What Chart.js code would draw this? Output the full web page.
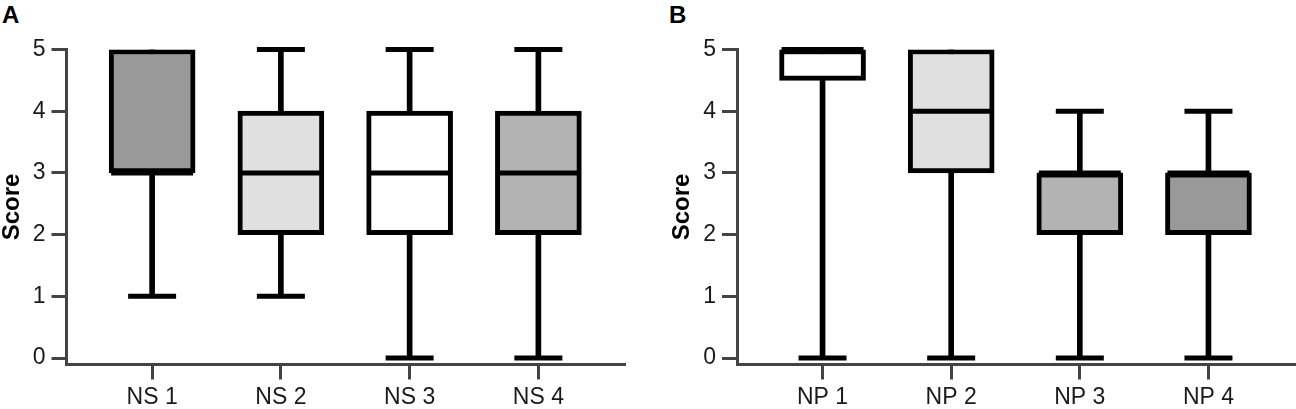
<!DOCTYPE html>
<html>
<head>
<meta charset="utf-8">
<script src="https://cdn.jsdelivr.net/npm/chart.js@4.4.0/dist/chart.umd.min.js"></script>
<style>
    html, body { margin: 0; padding: 0; background: #fff; }
    body { width: 1296px; height: 409px; position: relative; overflow: hidden; font-family: "Liberation Sans", Arial, sans-serif; }
    .panel { position: absolute; top: 0; }
    .letter { position: absolute; top: 3px; font-size: 24px; line-height: 24px; font-weight: bold; color: #000; }
</style>
</head>
<body>
<div class="letter" style="left:2px;">A</div>
<div class="letter" style="left:669px;">B</div>
<canvas id="chartA" class="panel" style="left:0px;" width="648" height="409"></canvas>
<canvas id="chartB" class="panel" style="left:670px;" width="626" height="409"></canvas>
<script>
// Panel A - NS items (box plot: min, Q1, median, Q3, max)
const catsA = ['NS 1', 'NS 2', 'NS 3', 'NS 4'];
const minA = [1, 1, 0, 0];
const q1A  = [3, 2, 2, 2];
const medA = [3, 3, 3, 3];
const q3A  = [5, 4, 4, 4];
const maxA = [5, 5, 5, 5];

// Panel B - NP items
const catsB = ['NP 1', 'NP 2', 'NP 3', 'NP 4'];
const minB = [0, 0, 0, 0];
const q1B  = [4.5, 3, 2, 2];
const medB = [5, 4, 3, 3];
const q3B  = [5, 5, 3, 3];
const maxB = [5, 5, 4, 4];

const yTicks = [0, 1, 2, 3, 4, 5];

// box fills
const fillsA = ['#999999', '#e0e0e0', '#ffffff', '#b3b3b3'];
const fillsB = ['#ffffff', '#e0e0e0', '#b3b3b3', '#999999'];

const AXIS = '#444444';
const FONT = '"Liberation Sans", Arial, sans-serif';

function makeBoxChart(id, cats, mins, q1s, meds, q3s, maxs, fills, yWidth, rightPad) {
    const pos = cats.map((c, i) => i + 1);

    // caps only where the whisker sticks out of the box
    const caps = [];
    pos.forEach((x, i) => {
        if (mins[i] < q1s[i]) caps.push({ x: x, y: mins[i] });
        if (maxs[i] > q3s[i]) caps.push({ x: x, y: maxs[i] });
    });

    return new Chart(document.getElementById(id), {
        type: 'bar',
        data: {
            datasets: [
                {
                    // whiskers
                    type: 'bar',
                    data: pos.map((x, i) => ({ x: x, y: [mins[i], maxs[i]] })),
                    backgroundColor: '#000',
                    borderWidth: 0,
                    barThickness: 5,
                    grouped: false,
                    order: 3
                },
                {
                    // boxes Q1..Q3
                    type: 'bar',
                    data: pos.map((x, i) => ({ x: x, y: [q1s[i], q3s[i]] })),
                    backgroundColor: fills,
                    borderColor: '#000',
                    borderWidth: 5,
                    borderSkipped: false,
                    barThickness: 86,
                    grouped: false,
                    order: 2
                },
                {
                    // medians
                    type: 'line',
                    data: pos.map((x, i) => ({ x: x, y: meds[i] })),
                    showLine: false,
                    pointStyle: 'line',
                    pointRadius: 41,
                    pointHoverRadius: 41,
                    pointBorderWidth: 5,
                    pointBorderColor: '#000',
                    clip: false,
                    order: 1
                },
                {
                    // whisker caps
                    type: 'line',
                    data: caps,
                    showLine: false,
                    pointStyle: 'line',
                    pointRadius: 24,
                    pointHoverRadius: 24,
                    pointBorderWidth: 5,
                    pointBorderColor: '#000',
                    clip: false,
                    order: 1
                }
            ]
        },
        options: {
            responsive: false,
            animation: false,
            layout: { autoPadding: false, padding: { top: 49.5, right: rightPad, left: 0, bottom: 0 } },
            plugins: { legend: { display: false }, tooltip: { enabled: false } },
            scales: {
                x: {
                    type: 'linear',
                    offset: false,
                    min: 0.335,
                    max: 4.665,
                    afterBuildTicks: s => { s.ticks = pos.map(v => ({ value: v })); },
                    afterFit: s => { s.height = 44.5; s.paddingLeft = 0; s.paddingRight = 0; },
                    ticks: {
                        autoSkip: false,
                        maxRotation: 0,
                        callback: v => cats[Math.round(v) - 1],
                        font: { family: FONT, size: 23 },
                        color: '#1a1a1a',
                        padding: 4
                    },
                    grid: { offset: false, drawOnChartArea: false, drawTicks: true, tickLength: 15, color: AXIS, lineWidth: 3 },
                    border: { display: true, color: AXIS, width: 3 }
                },
                y: {
                    min: -0.105,
                    max: 5,
                    afterBuildTicks: s => { s.ticks = yTicks.map(v => ({ value: v })); },
                    afterFit: s => { s.width = yWidth; s.paddingTop = 0; s.paddingBottom = 0; },
                    ticks: {
                        callback: v => v,
                        font: { family: FONT, size: 23 },
                        color: '#1a1a1a',
                        padding: 6
                    },
                    title: {
                        display: true,
                        text: 'Score',
                        font: { family: FONT, size: 24, weight: 'bold', lineHeight: 1 },
                        color: '#000',
                        padding: 0
                    },
                    grid: { drawOnChartArea: false, drawTicks: true, tickLength: 15, color: AXIS, lineWidth: 3 },
                    border: { display: true, color: AXIS, width: 3 }
                }
            }
        }
    });
}

makeBoxChart('chartA', catsA, minA, q1A, medA, q3A, maxA, fillsA, 66.5, 24);
makeBoxChart('chartB', catsB, minB, q1B, medB, q3B, maxB, fillsB, 67, 2);
</script>
</body>
</html>
